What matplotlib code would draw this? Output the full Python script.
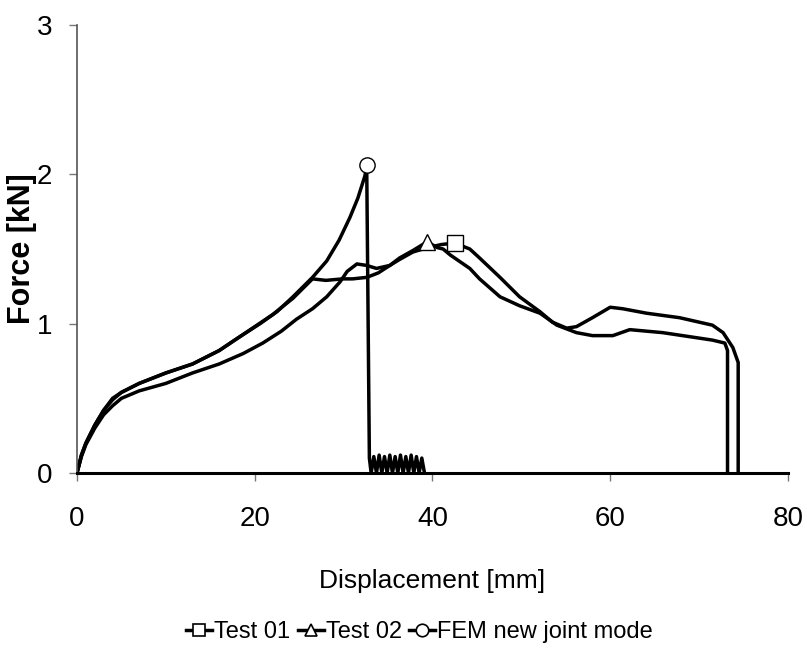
import matplotlib

matplotlib.use("Agg")
import matplotlib.pyplot as plt

plt.rcParams["font.family"] = ["Liberation Sans", "DejaVu Sans"]

# Test 01 (square marker at peak)
test01_x = [0, 0.5, 1, 2, 3, 4, 5, 7, 10, 13, 16, 18.7, 20.9, 23, 24.7, 26.5, 28.1,
            29.6, 30.4, 31.5, 32.6, 33.7, 35.2, 36.3, 37.8, 39.5, 41, 42.5, 44.2,
            45.3, 47.6, 49.8, 52.1, 53.5, 55.1, 56.2, 58, 60, 61.4, 64.1, 67.8,
            71.5, 72.7, 73.8, 74.4, 74.4]
test01_y = [0, 0.11, 0.19, 0.3, 0.39, 0.45, 0.5, 0.55, 0.6, 0.67, 0.73, 0.8, 0.87,
            0.95, 1.03, 1.1, 1.18, 1.28, 1.35, 1.40, 1.39, 1.37, 1.39, 1.43, 1.48,
            1.51, 1.53, 1.54, 1.50, 1.44, 1.31, 1.18, 1.08, 1.01, 0.97, 0.98, 1.04,
            1.11, 1.10, 1.07, 1.04, 0.99, 0.94, 0.84, 0.74, 0]
test01_peak = (42.5, 1.54)

# Test 02 (triangle marker at peak)
test02_x = [0, 0.5, 1, 2, 3, 4, 5, 7, 10, 13, 16, 18, 20, 22, 24.3, 26.5, 28, 29.9,
            31, 32.6, 33.9, 35.2, 36.3, 37.8, 38.9, 39.4, 40.5, 41.2, 42, 44.2,
            45.3, 47.6, 49.8, 52.1, 54, 56.2, 58, 60.3, 62.2, 65.9, 71.5, 72.9,
            73.2, 73.2]
test02_y = [0, 0.12, 0.2, 0.32, 0.42, 0.49, 0.54, 0.6, 0.67, 0.73, 0.82, 0.9, 0.98,
            1.06, 1.17, 1.30, 1.29, 1.30, 1.30, 1.31, 1.34, 1.39, 1.44, 1.49, 1.53,
            1.55, 1.51, 1.50, 1.46, 1.37, 1.30, 1.18, 1.12, 1.07, 0.99, 0.94, 0.92,
            0.92, 0.96, 0.94, 0.89, 0.87, 0.82, 0]
test02_peak = (39.4, 1.55)

# FEM new joint mode (circle marker at peak)
fem_x = [0, 0.5, 1, 2, 3, 4, 5, 7, 10, 13, 16, 18, 20.6, 22.5, 24.3, 26.5, 28.1,
         29.5, 30.7, 31.6, 32.4, 32.6, 32.9, 33.1, 33.4, 33.7, 34.0, 34.3, 34.6,
         34.9, 35.2, 35.5, 35.8, 36.1, 36.4, 36.7, 37.0, 37.3, 37.6, 37.9, 38.2,
         38.5, 38.8, 39.1]
fem_y = [0, 0.12, 0.2, 0.32, 0.42, 0.5, 0.54, 0.6, 0.67, 0.73, 0.82, 0.9, 1.0, 1.08,
         1.18, 1.31, 1.42, 1.56, 1.71, 1.84, 1.99, 2.06, 0.1, 0.0, 0.11, 0.0, 0.12,
         0.0, 0.11, 0.0, 0.12, 0.0, 0.11, 0.0, 0.12, 0.0, 0.11, 0.0, 0.12, 0.0,
         0.11, 0.0, 0.1, 0.0]
fem_peak = (32.6, 2.06)

x_ticks = [0, 20, 40, 60, 80]
y_ticks = [0, 1, 2, 3]

fig = plt.figure(figsize=(8.07, 6.62), dpi=100)
ax = fig.add_axes([0.0954, 0.2855, 0.881, 0.6767])

series = [
    ("Test 01", test01_x, test01_y, test01_peak, "s"),
    ("Test 02", test02_x, test02_y, test02_peak, "^"),
    ("FEM new joint mode", fem_x, fem_y, fem_peak, "o"),
]
handles = []
for label, xs, ys, peak, marker in series:
    ax.plot(xs, ys, color="black", linewidth=2.5, solid_joinstyle="round")
    ax.plot([peak[0]], [peak[1]], linestyle="none", marker=marker, markersize=11,
            markerfacecolor="white", markeredgecolor="black", markeredgewidth=1.0)
    (h,) = ax.plot([], [], color="black", linewidth=2.5, marker=marker, markersize=9,
                   markerfacecolor="white", markeredgecolor="black",
                   markeredgewidth=1.2, label=label)
    handles.append(h)

ax.set_xlim(0, 80)
ax.set_ylim(0, 3)
ax.set_xticks(x_ticks)
ax.set_yticks(y_ticks)
ax.tick_params(axis="x", direction="out", length=6, width=1, color="#777777",
               pad=18, labelsize=20)
ax.tick_params(axis="y", direction="out", length=6, width=1, color="#777777",
               pad=12, labelsize=20)
for side in ("top", "right"):
    ax.spines[side].set_visible(False)
ax.spines["left"].set_color("#555555")
ax.spines["left"].set_linewidth(1.2)
ax.spines["bottom"].set_color("black")
ax.spines["bottom"].set_linewidth(2.2)

ax.set_xlabel("Displacement [mm]", fontsize=19)
ax.xaxis.set_label_coords(0.5, -0.215)
ax.set_ylabel("Force [kN]", fontsize=22, fontweight="bold")
ax.yaxis.set_label_coords(-0.056, 0.5)

fig.legend(handles=handles, loc="center", bbox_to_anchor=(0.52, 0.045), ncol=3,
           frameon=False, fontsize=17, handlelength=1.1, handletextpad=0.1,
           columnspacing=0.3)

fig.savefig("out.png", dpi=100)
